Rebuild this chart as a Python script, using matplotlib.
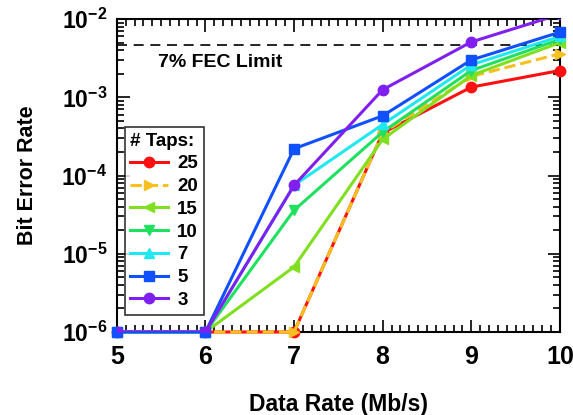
import matplotlib.pyplot as plt
from matplotlib.ticker import MultipleLocator, LogLocator, NullFormatter

plt.rcParams['font.family'] = ['Liberation Sans', 'DejaVu Sans']
plt.rcParams['font.weight'] = 'bold'

rate = [5, 6, 7, 8, 9, 10]
taps = ['25', '20', '15', '10', '7', '5', '3']
ber_25 = [1e-6, 1e-6, 1e-6, 3.5e-4, 1.35e-3, 2.2e-3]
ber_20 = [1e-6, 1e-6, 1e-6, 3.5e-4, 1.85e-3, 3.6e-3]
ber_15 = [1e-6, 1e-6, 6.8e-6, 2.9e-4, 1.9e-3, 5.0e-3]
ber_10 = [1e-6, 1e-6, 3.6e-5, 3.6e-4, 2.2e-3, 5.5e-3]
ber_7 = [1e-6, 1e-6, 7.5e-5, 4.5e-4, 2.6e-3, 6.0e-3]
ber_5 = [1e-6, 1e-6, 2.2e-4, 5.8e-4, 3.0e-3, 6.8e-3]
ber_3 = [1e-6, 1e-6, 7.5e-5, 1.25e-3, 5.1e-3, 1.15e-2]
fec_limit = 4.6e-3

series = [ber_25, ber_20, ber_15, ber_10, ber_7, ber_5, ber_3]
colors = ['#ff1010', '#f5c020', '#80e020', '#20e060', '#20e8f0', '#1050ff', '#8020f0']
markers = ['o', '>', '<', 'v', '^', 's', 'o']
styles = ['-', '--', '-', '-', '-', '-', '-']

fig = plt.figure(figsize=(5.73, 4.15), dpi=100)
ax = fig.add_axes([0.204, 0.2, 0.773, 0.754])

for i in range(len(series)):
    ax.plot(rate, series[i], color=colors[i], marker=markers[i], ls=styles[i],
            lw=2.2, ms=7.5, label=taps[i], clip_on=(i == 6), zorder=3 + i)

ax.axhline(fec_limit, color='black', ls=(0, (6, 4)), lw=1.2, zorder=2)
ax.text(5.46, 2.8e-3, '7% FEC Limit', fontsize=14, fontweight='bold', va='center')

ax.set_yscale('log')
ax.set_xlim(5, 10)
ax.set_ylim(1e-6, 1e-2)
ax.xaxis.set_major_locator(MultipleLocator(1))
ax.xaxis.set_minor_locator(MultipleLocator(0.1))
ax.yaxis.set_minor_locator(LogLocator(base=10, subs=range(2, 10)))
ax.yaxis.set_minor_formatter(NullFormatter())
ax.tick_params(which='both', direction='in', top=True, right=True, width=1.2)
ax.tick_params(which='major', length=9)
ax.tick_params(axis='x', which='major', pad=9, labelsize=18)
ax.tick_params(axis='y', which='major', pad=7, labelsize=16.5)
ax.tick_params(which='minor', length=5)
for lab in ax.get_xticklabels() + ax.get_yticklabels():
    lab.set_fontweight('bold')
for s in ax.spines.values():
    s.set_linewidth(1.5)

ax.set_xlabel('Data Rate (Mb/s)', fontsize=16.5, fontweight='bold')
ax.set_ylabel('Bit Error Rate', fontsize=15.5, fontweight='bold')
ax.xaxis.set_label_coords(0.5, -0.195)
ax.yaxis.set_label_coords(-0.178, 0.5)

leg = ax.legend(title='# Taps:', loc='upper left', bbox_to_anchor=(0.018, 0.655),
                fontsize=13.5, title_fontproperties={'weight': 'bold', 'size': 13.5},
                frameon=True, fancybox=False, edgecolor='black', handlelength=2.0,
                borderpad=0.3, labelspacing=0.3, handletextpad=0.5, borderaxespad=0)
leg.get_frame().set_linewidth(1.2)
leg._legend_box.align = 'left'
leg.set_zorder(20)

fig.savefig('out.png', dpi=100)
